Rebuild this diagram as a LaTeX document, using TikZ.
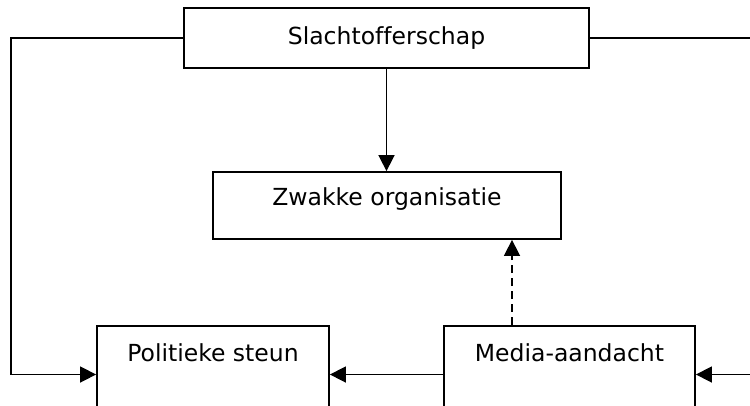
\documentclass[tikz,border=0pt]{standalone}
\usepackage{fontspec}
\setmainfont[Ligatures=NoCommon]{DejaVu Sans}
\usetikzlibrary{arrows.meta}
\begin{document}
\begin{tikzpicture}[x=1pt,y=-1pt,
  box/.style={draw=black,line width=1.8pt,fill=white,inner sep=0pt,rectangle},
  lbl/.style={anchor=base,inner sep=0pt,font=\fontsize{23.5}{28}\selectfont},
  conn/.style={line width=1.6pt,-{Triangle[length=16pt,width=16pt]}}]
\useasboundingbox (0,0) rectangle (750,405);
\fill[white] (0,0) rectangle (750,405);
\node[box,minimum width=405pt,minimum height=60pt] (s) at (386.5,38) {};
\node[box,minimum width=348pt,minimum height=67pt] (z) at (387,205.5) {};
\node[box,minimum width=232pt,minimum height=114pt] (p) at (213,383) {};
\node[box,minimum width=251pt,minimum height=114pt] (m) at (569.5,383) {};
\node[lbl] (st) at (386.5,44) {Slachtofferschap};
\node[lbl] (zt) at (387,205) {Zwakke organisatie};
\node[lbl] (pt) at (213,361) {Politieke steun};
\node[lbl] (mt) at (569.5,361) {Media-aandacht};
\coordinate (yarr) at (0,374.5);
\coordinate (xl) at (11,0);
\coordinate (xr) at (770,0);
\coordinate (xd) at (512,0);
\draw[conn] (s.west) -- (s.west -| xl) -- (xl |- yarr) -- (p.west |- yarr);
\draw[conn] (s.east) -- (s.east -| xr) -- (xr |- yarr) -- (m.east |- yarr);
\draw[conn] (m.west |- yarr) -- (p.east |- yarr);
\draw[conn] (s.south) -- (s.south |- z.north);
\draw[conn,dash pattern=on 8pt off 5pt] (m.north -| xd) -- (z.south -| xd);
\end{tikzpicture}
\end{document}
